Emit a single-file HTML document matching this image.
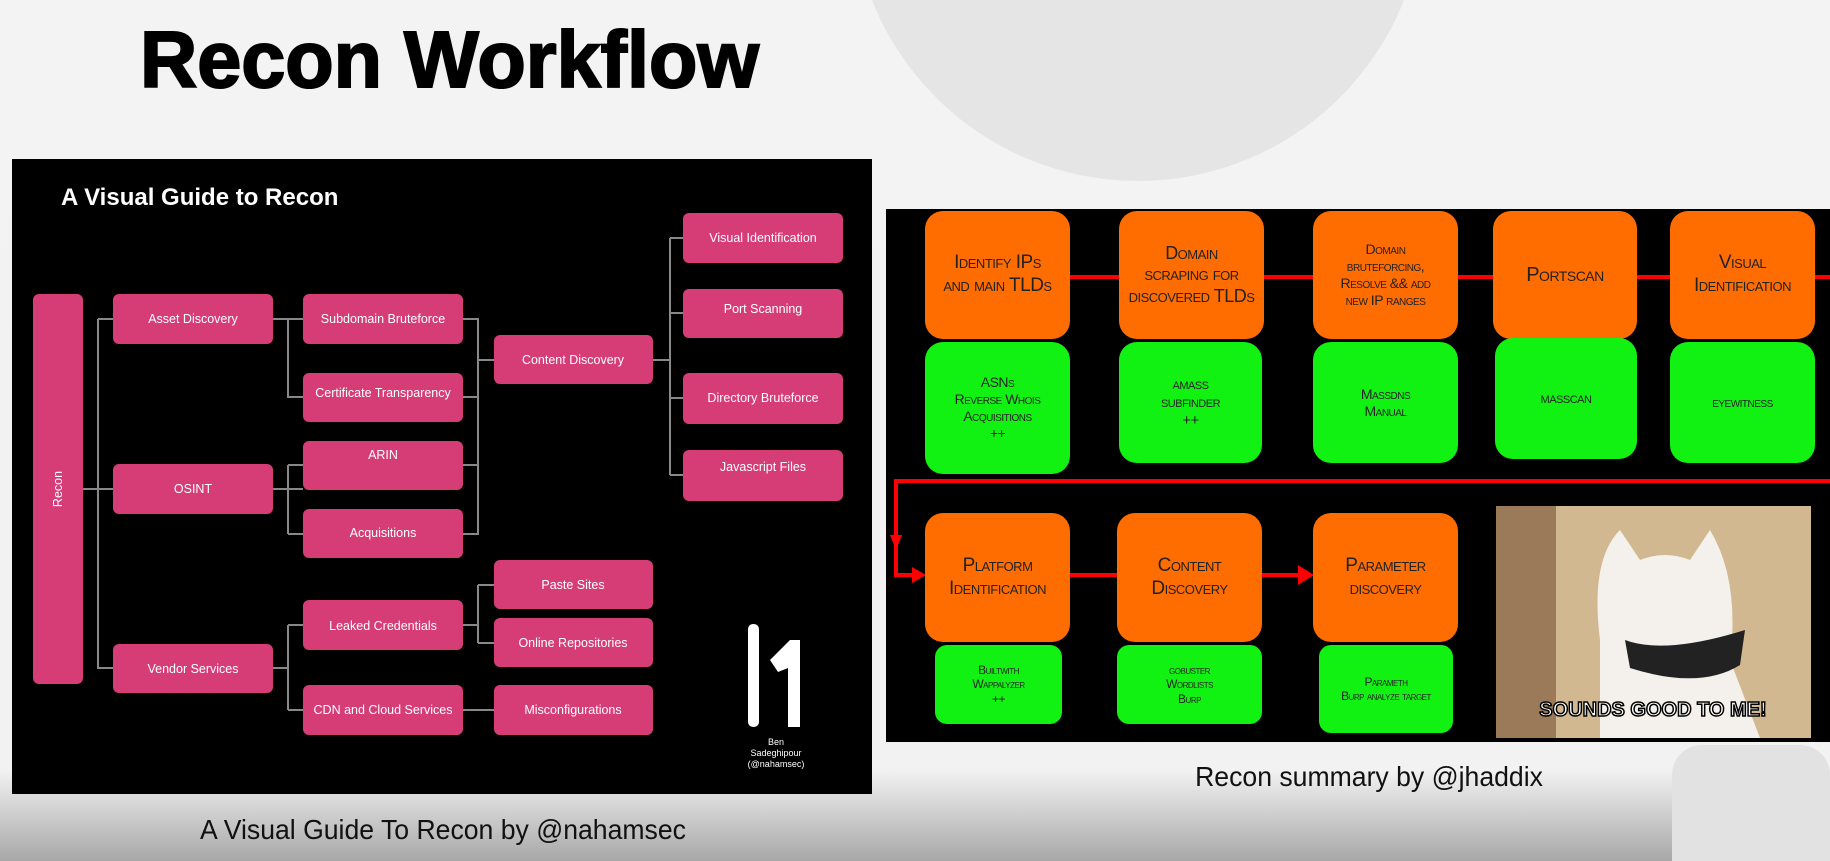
<!DOCTYPE html>
<html><head><meta charset="utf-8"><style>
html,body{margin:0;padding:0}
body{width:1830px;height:861px;overflow:hidden;position:relative;background:linear-gradient(#f3f3f3 0,#f2f2f2 770px,#a8a8a8 861px);font-family:"Liberation Sans",sans-serif}
.t{position:absolute;white-space:nowrap}
.hand{font-family:"Liberation Sans Narrow","Liberation Sans",sans-serif;font-variant:small-caps;color:#222;text-align:center;display:flex;align-items:center;justify-content:center;line-height:1.2;letter-spacing:-0.5px}
</style></head><body>
<div style="position:absolute;left:852px;top:-391px;width:572px;height:572px;border-radius:50%;background:#e5e5e5"></div>
<div class="t" style="left:140px;top:14px;font-size:80px;font-weight:bold;letter-spacing:0px;transform:scaleX(0.99);transform-origin:left;-webkit-text-stroke:2px #000">Recon Workflow</div>
<div style="position:absolute;left:1672px;top:745px;width:158px;height:116px;background:#e2e2e2;border-radius:30px 30px 0 0"></div>

<svg style="position:absolute;left:0;top:0" width="1830" height="861">
<rect x="12" y="159" width="860" height="635" fill="#000"/>
<text x="61" y="205" fill="#fff" font-size="24" font-weight="bold" font-family="Liberation Sans">A Visual Guide to Recon</text>
<g stroke="#888" stroke-width="2" fill="none">
<path d="M83 489H113M98 319V668H113M98 319H113"/>
<path d="M273 319H303M288 319V397H303"/>
<path d="M273 489H303M288 465V534M288 465H303M288 534H303"/>
<path d="M273 668H288M288 625V710M288 625H303M288 710H303"/>
<path d="M463 319H478V534H463M463 397H478M463 465H478M478 360H494"/>
<path d="M653 360H670M670 238V475M670 238H683M670 313H683M670 398H683M670 475H683"/>
<path d="M463 625H478M478 585V643M478 585H494M478 643H494"/>
<path d="M463 710H494"/>
</g>
<g fill="#d63c76">
<rect x="33" y="294" width="50" height="390" rx="6"/>
<rect x="113" y="294" width="160" height="50" rx="6"/>
<rect x="113" y="464" width="160" height="50" rx="6"/>
<rect x="113" y="644" width="160" height="49" rx="6"/>
<rect x="303" y="294" width="160" height="50" rx="6"/>
<rect x="303" y="373" width="160" height="49" rx="6"/>
<rect x="303" y="441" width="160" height="49" rx="6"/>
<rect x="303" y="509" width="160" height="49" rx="6"/>
<rect x="303" y="600" width="160" height="50" rx="6"/>
<rect x="303" y="685" width="160" height="50" rx="6"/>
<rect x="494" y="335" width="159" height="49" rx="6"/>
<rect x="494" y="560" width="159" height="49" rx="6"/>
<rect x="494" y="618" width="159" height="49" rx="6"/>
<rect x="494" y="685" width="159" height="50" rx="6"/>
<rect x="683" y="213" width="160" height="50" rx="6"/>
<rect x="683" y="289" width="160" height="49" rx="6"/>
<rect x="683" y="373" width="160" height="51" rx="6"/>
<rect x="683" y="450" width="160" height="51" rx="6"/>
</g>
<g fill="#fff" font-size="12.5" font-family="Liberation Sans" text-anchor="middle">
<text transform="translate(62 489) rotate(-90)">Recon</text>
<text x="193" y="323">Asset Discovery</text>
<text x="193" y="493">OSINT</text>
<text x="193" y="673">Vendor Services</text>
<text x="383" y="323">Subdomain Bruteforce</text>
<text x="383" y="397">Certificate Transparency</text>
<text x="383" y="459">ARIN</text>
<text x="383" y="537">Acquisitions</text>
<text x="383" y="630">Leaked Credentials</text>
<text x="383" y="714">CDN and Cloud Services</text>
<text x="573" y="364">Content Discovery</text>
<text x="573" y="589">Paste Sites</text>
<text x="573" y="647">Online Repositories</text>
<text x="573" y="714">Misconfigurations</text>
<text x="763" y="242">Visual Identification</text>
<text x="763" y="313">Port Scanning</text>
<text x="763" y="402">Directory Bruteforce</text>
<text x="763" y="471">Javascript Files</text>
</g>
<rect x="748" y="624" width="11" height="103" rx="5" fill="#fff"/>
<path d="M770 660 L790 640 L800 640 L800 727 L788 727 L788 668 L778 672 Z" fill="#fff"/>
<g fill="#fff" font-size="9" text-anchor="middle" font-family="Liberation Sans">
<text x="776" y="745">Ben</text><text x="776" y="756">Sadeghipour</text><text x="776" y="767">(@nahamsec)</text>
</g>

<rect x="886" y="209" width="944" height="533" fill="#000"/>
<g stroke="#f00" stroke-width="4" fill="none">
<path d="M1070 277H1830"/>
<path d="M1830 481H896V575H918"/>
<path d="M1070 575H1117M1262 575H1300"/>
</g>
<path d="M890 535L896 550L902 535Z" fill="#f00"/>
<path d="M912 567L926 575L912 583Z" fill="#f00"/>
<path d="M1298 565L1314 575L1298 585Z" fill="#f00"/>
<g fill="#ff6d00">
<rect x="925" y="211" width="145" height="128" rx="18"/>
<rect x="1119" y="211" width="145" height="128" rx="18"/>
<rect x="1313" y="211" width="145" height="128" rx="18"/>
<rect x="1493" y="211" width="144" height="128" rx="18"/>
<rect x="1670" y="211" width="145" height="128" rx="18"/>
<rect x="925" y="513" width="145" height="129" rx="18"/>
<rect x="1117" y="513" width="145" height="129" rx="18"/>
<rect x="1313" y="513" width="145" height="129" rx="18"/>
</g>
<g fill="#12f212">
<rect x="925" y="342" width="145" height="132" rx="18"/>
<rect x="1119" y="342" width="143" height="121" rx="18"/>
<rect x="1313" y="342" width="145" height="121" rx="18"/>
<rect x="1495" y="338" width="142" height="121" rx="18"/>
<rect x="1670" y="342" width="145" height="121" rx="18"/>
<rect x="935" y="645" width="127" height="79" rx="12"/>
<rect x="1117" y="645" width="145" height="79" rx="12"/>
<rect x="1319" y="645" width="134" height="88" rx="12"/>
</g>
<rect x="1496" y="506" width="315" height="232" fill="#d2b890"/>
<rect x="1496" y="506" width="60" height="232" fill="#9a7a58"/>
<path d="M1600 738 L1600 640 Q1590 560 1620 530 L1640 560 Q1665 550 1690 560 L1710 530 Q1740 580 1730 660 L1760 738Z" fill="#f4f1ec"/>
<path d="M1625 640 Q1665 655 1745 630 L1740 665 Q1700 690 1630 668Z" fill="#222"/>
<text x="1653" y="716" fill="#fff" stroke="#000" stroke-width="1.5" font-size="20" font-weight="bold" text-anchor="middle" font-family="Liberation Sans">SOUNDS GOOD TO ME!</text>
</svg>

<div class="hand" style="position:absolute;left:925px;top:211px;width:145px;height:128px;font-size:19px">Identify IPs<br>and main TLDs</div>
<div class="hand" style="position:absolute;left:1119px;top:211px;width:145px;height:128px;font-size:18px">Domain<br>scraping for<br>discovered TLDs</div>
<div class="hand" style="position:absolute;left:1313px;top:211px;width:145px;height:128px;font-size:14px">Domain<br>bruteforcing,<br>Resolve && add<br>new IP ranges</div>
<div class="hand" style="position:absolute;left:1493px;top:211px;width:144px;height:128px;font-size:20px">Portscan</div>
<div class="hand" style="position:absolute;left:1670px;top:211px;width:145px;height:128px;font-size:19px">Visual<br>Identification</div>
<div class="hand" style="position:absolute;left:925px;top:342px;width:145px;height:132px;font-size:14px">ASNs<br>Reverse Whois<br>Acquisitions<br>++</div>
<div class="hand" style="position:absolute;left:1119px;top:342px;width:143px;height:121px;font-size:15px">amass<br>subfinder<br>++</div>
<div class="hand" style="position:absolute;left:1313px;top:342px;width:145px;height:121px;font-size:14px">Massdns<br>Manual</div>
<div class="hand" style="position:absolute;left:1495px;top:338px;width:142px;height:121px;font-size:15px">masscan</div>
<div class="hand" style="position:absolute;left:1670px;top:342px;width:145px;height:121px;font-size:14px">eyewitness</div>
<div class="hand" style="position:absolute;left:925px;top:513px;width:145px;height:129px;font-size:19px">Platform<br>Identification</div>
<div class="hand" style="position:absolute;left:1117px;top:513px;width:145px;height:129px;font-size:19px">Content<br>Discovery</div>
<div class="hand" style="position:absolute;left:1313px;top:513px;width:145px;height:129px;font-size:19px">Parameter<br>discovery</div>
<div class="hand" style="position:absolute;left:935px;top:645px;width:127px;height:79px;font-size:12px">Builtwith<br>Wappalyzer<br>++</div>
<div class="hand" style="position:absolute;left:1117px;top:645px;width:145px;height:79px;font-size:12px">gobuster<br>Wordlists<br>Burp</div>
<div class="hand" style="position:absolute;left:1319px;top:645px;width:134px;height:88px;font-size:12px">Parameth<br>Burp analyze target</div>

<div class="t" style="left:443px;top:814px;transform:translateX(-50%) scaleX(0.95);font-size:28px;color:#111">A Visual Guide To Recon by @nahamsec</div>
<div class="t" style="left:1369px;top:761px;transform:translateX(-50%) scaleX(0.95);font-size:28px;color:#111">Recon summary by @jhaddix</div>
</body></html>
